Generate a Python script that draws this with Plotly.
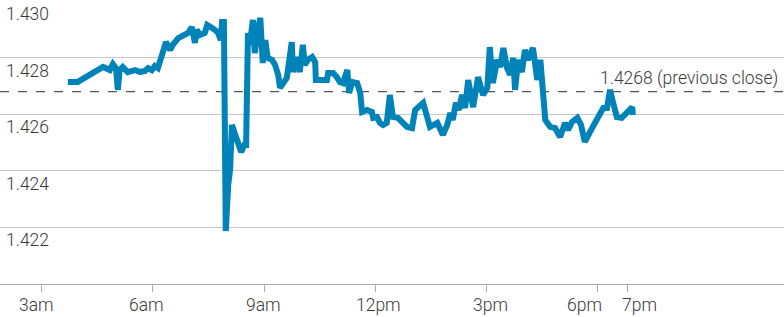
import plotly.graph_objects as go

DAY = "2024-01-02 "

times = ["03:42", "03:58", "04:39", "04:50", "04:55", "05:00", "05:03", "05:06", "05:11", "05:19",
         "05:31", "05:39", "05:47", "05:52", "05:58", "06:03", "06:08", "06:11", "06:21", "06:28",
         "06:32", "06:41", "06:49", "06:57", "07:03", "07:08", "07:11", "07:16", "07:24", "07:28",
         "07:36", "07:45", "07:50", "07:52", "07:55", "07:58", "08:02", "08:05", "08:08", "08:13",
         "08:18", "08:23", "08:28", "08:31", "08:34", "08:37", "08:42", "08:45", "08:50", "08:54",
         "08:58", "09:02", "09:06", "09:13", "09:18", "09:23", "09:26", "09:31", "09:37", "09:45",
         "09:47", "09:53", "09:58", "10:03", "10:06", "10:11", "10:18", "10:23", "10:24", "10:31",
         "10:42", "10:44", "10:52", "10:58", "11:03", "11:08", "11:15", "11:18", "11:23", "11:31",
         "11:36", "11:39", "11:47", "11:55", "11:57", "12:03", "12:08", "12:13", "12:19", "12:24",
         "12:29", "12:37", "12:44", "12:52", "13:00", "13:05", "13:18", "13:24", "13:29", "13:41",
         "13:45", "13:50", "13:57", "14:02", "14:06", "14:11", "14:16", "14:21", "14:26", "14:31",
         "14:39", "14:47", "14:55", "15:02", "15:06", "15:11", "15:18", "15:23", "15:28", "15:34",
         "15:39", "15:44", "15:47", "15:52", "15:58", "16:03", "16:08", "16:16", "16:23", "16:28",
         "16:36", "16:44", "16:52", "17:00", "17:08", "17:13", "17:19", "17:28", "17:34", "17:40",
         "17:53", "18:02", "18:10", "18:16", "18:21", "18:26", "18:32", "18:40", "18:49", "18:57",
         "18:58"]

rates = [1.42714, 1.42714, 1.42767, 1.42756, 1.42777, 1.42763, 1.42686, 1.42756, 1.42767, 1.42749,
         1.42756, 1.42749, 1.42753, 1.42763, 1.42756, 1.42770, 1.42763, 1.42781, 1.42855, 1.42827,
         1.42845, 1.42869, 1.42876, 1.42887, 1.42908, 1.42852, 1.42898, 1.42880, 1.42887, 1.42915,
         1.42905, 1.42890, 1.42862, 1.42926, 1.42926, 1.42187, 1.42350, 1.42403, 1.42562, 1.42527,
         1.42509, 1.42466, 1.42491, 1.42491, 1.42887, 1.42845, 1.42933, 1.42816, 1.42898, 1.42940,
         1.42781, 1.42862, 1.42799, 1.42792, 1.42774, 1.42739, 1.42693, 1.42714, 1.42728, 1.42855,
         1.42749, 1.42802, 1.42749, 1.42845, 1.42774, 1.42792, 1.42802, 1.42784, 1.42721, 1.42721,
         1.42721, 1.42746, 1.42746, 1.42731, 1.42714, 1.42710, 1.42756, 1.42675, 1.42714, 1.42710,
         1.42675, 1.42608, 1.42615, 1.42608, 1.42587, 1.42590, 1.42569, 1.42562, 1.42569, 1.42668,
         1.42590, 1.42587, 1.42572, 1.42555, 1.42551, 1.42615, 1.42640, 1.42597, 1.42555, 1.42569,
         1.42544, 1.42527, 1.42562, 1.42604, 1.42580, 1.42640, 1.42615, 1.42668, 1.42622, 1.42721,
         1.42625, 1.42731, 1.42668, 1.42693, 1.42837, 1.42710, 1.42792, 1.42767, 1.42834, 1.42763,
         1.42739, 1.42799, 1.42686, 1.42792, 1.42749, 1.42827, 1.42792, 1.42834, 1.42721, 1.42792,
         1.42580, 1.42555, 1.42551, 1.42519, 1.42569, 1.42544, 1.42572, 1.42587, 1.42562, 1.42502,
         1.42555, 1.42590, 1.42622, 1.42622, 1.42686, 1.42640, 1.42590, 1.42587, 1.42604, 1.42625,
         1.42597]

previous_close = 1.4268
previous_close_label = "1.4268 (previous close)"

y_ticks = [1.422, 1.424, 1.426, 1.428, 1.430]
y_tick_labels = ["1.422", "1.424", "1.426", "1.428", "1.430"]

x_tick_times = ["03:00", "06:00", "09:00", "12:00", "15:00", "18:00", "18:49"]
x_tick_labels = ["3am", "6am", "9am", "12pm", "3pm", "6pm", "7pm"]

# style: horizontal nudges of the x labels (pixels), as in the original
X_LABEL_SHIFTS = [-5, -6, -1, 3, 4, -13, 12]

x_range = ["01:52", "23:03"]
y_range = [1.420, 1.430]

FONT = "Roboto"
TEXT_COLOR = "#3a3a3a"
FONT_SPEC = dict(family=FONT, size=17.5, color=TEXT_COLOR, weight=300)

fig = go.Figure()

fig.add_trace(go.Scatter(
    x=[DAY + t for t in times],
    y=rates,
    mode="lines",
    line=dict(color="#0083b9", width=6),
    hoverinfo="skip",
    showlegend=False,
))

fig.add_shape(
    type="line", xref="paper", yref="y",
    x0=0, x1=1, y0=previous_close, y1=previous_close,
    line=dict(color="#555555", width=1.3, dash="dash"),
    layer="below",
)

annotations = [
    dict(
        text=previous_close_label, xref="paper", yref="y",
        x=0.995, y=previous_close, xanchor="right", yanchor="bottom",
        yshift=1, showarrow=False, font=FONT_SPEC,
    )
]
for v, lab in zip(y_ticks, y_tick_labels):
    annotations.append(dict(
        text=lab, xref="paper", yref="y", x=0.005, y=v,
        xanchor="left", yanchor="top", yshift=-1, showarrow=False,
        font=FONT_SPEC,
    ))
for t, lab, sh in zip(x_tick_times, x_tick_labels, X_LABEL_SHIFTS):
    annotations.append(dict(
        text=lab, xref="x", yref="paper", x=DAY + t, y=0,
        xanchor="center", yanchor="top", yshift=-9, xshift=sh,
        showarrow=False, font=FONT_SPEC,
    ))

fig.update_layout(
    width=784, height=317,
    margin=dict(l=0, r=0, t=1, b=33),
    paper_bgcolor="white", plot_bgcolor="white",
    annotations=annotations,
    xaxis=dict(
        type="date",
        range=[DAY + x_range[0], DAY + x_range[1]],
        tickmode="array",
        tickvals=[DAY + t for t in x_tick_times],
        showticklabels=False,
        showgrid=False, zeroline=False,
        showline=True, linecolor="#aaaaaa", linewidth=1.3,
        ticks="outside", ticklen=7, tickcolor="#aaaaaa", tickwidth=1,
        automargin=False,
    ),
    yaxis=dict(
        range=y_range,
        tickmode="array", tickvals=y_ticks,
        showticklabels=False,
        showgrid=True, gridcolor="#c8c8c8", gridwidth=1.3,
        zeroline=False, showline=False, ticks="",
        automargin=False,
    ),
)

fig.write_html(
    "out.html",
    config={"displayModeBar": False},
    post_script="document.body.style.margin='0';document.body.style.overflow='hidden';",
)
